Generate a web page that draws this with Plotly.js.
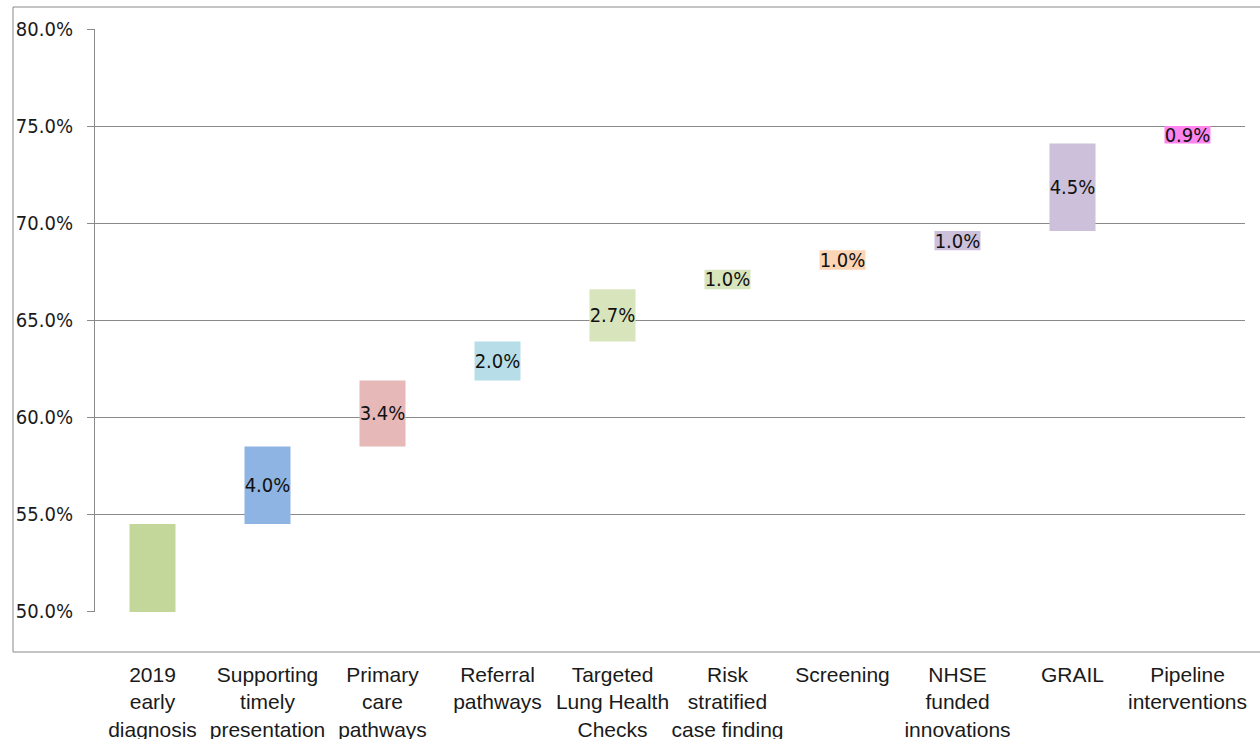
<!DOCTYPE html>
<html>
<head>
<meta charset="utf-8">
<script src="https://cdn.plot.ly/plotly-3.0.1.min.js"></script>
<style>html,body{margin:0;padding:0;background:#fff;}#chart{width:1260px;height:739px;}</style>
</head>
<body>
<div id="chart"></div>
<script>
// Category labels (x axis)
const categories = [
  "2019<br>early<br>diagnosis",
  "Supporting<br>timely<br>presentation",
  "Primary<br>care<br>pathways",
  "Referral<br>pathways",
  "Targeted<br>Lung Health<br>Checks",
  "Risk<br>stratified<br>case finding",
  "Screening",
  "NHSE<br>funded<br>innovations",
  "GRAIL",
  "Pipeline<br>interventions"
];
// Values in percentage points: first is the 2019 baseline, rest are increments
const values = [54.5, 4.0, 3.4, 2.0, 2.7, 1.0, 1.0, 1.0, 4.5, 0.9];
const barColors = ["#c4d79b", "#8db4e2", "#e6b8b7", "#b7dee8", "#d8e4bc",
                   "#d8e4bc", "#fcd5b4", "#ccc0da", "#ccc0da", "#ff85ee"];
const yTickVals = [50, 55, 60, 65, 70, 75, 80];
const yTickText = ["50.0%", "55.0%", "60.0%", "65.0%", "70.0%", "75.0%", "80.0%"];
const axisFloor = 50;

// Waterfall bases derived from the values
const bases = [];
let running = 0;
values.forEach((v, i) => { bases.push(i === 0 ? 0 : running); running += v; });
const labels = values.map((v, i) => i === 0 ? "" : v.toFixed(1) + "%");

const traces = [
  {
    // white (hidden) base segment beneath the first increment bar
    type: "bar",
    x: [categories[1]],
    y: [bases[1] - axisFloor],
    base: [axisFloor],
    width: 0.4,
    marker: {color: "#ffffff", line: {width: 3, color: "#ffffff"}},
    hoverinfo: "skip",
    showlegend: false
  },
  {
    type: "bar",
    x: categories,
    y: values,
    base: bases,
    width: 0.4,
    marker: {color: barColors, line: {width: 0}},
    text: labels,
    textposition: "inside",
    insidetextanchor: "middle",
    textangle: 0,
    constraintext: "none",
    textfont: {family: "DejaVu Sans Condensed, DejaVu Sans, sans-serif", size: 20, color: "#111111"},
    showlegend: false
  }
];

const layout = {
  width: 1260,
  height: 739,
  margin: {l: 95, r: 15, t: 29, b: 127},
  paper_bgcolor: "#ffffff",
  plot_bgcolor: "#ffffff",
  barmode: "overlay",
  showlegend: false,
  xaxis: {
    type: "category",
    categoryorder: "array",
    categoryarray: categories,
    showgrid: false,
    showline: false,
    zeroline: false,
    ticks: "",
    ticklabelstandoff: 48,
    tickangle: 0,
    tickfont: {family: "Liberation Sans, Arial, sans-serif", size: 21, color: "#1a1a1a"},
    fixedrange: true
  },
  yaxis: {
    range: [49.97, 80],
    tickmode: "array",
    tickvals: yTickVals,
    ticktext: yTickText,
    showgrid: true,
    gridcolor: "#8a8a8a",
    gridwidth: 1,
    showline: true,
    linecolor: "#8a8a8a",
    linewidth: 1,
    zeroline: false,
    ticks: "outside",
    ticklen: 7,
    tickcolor: "#8a8a8a",
    ticklabelstandoff: 10,
    tickfont: {family: "DejaVu Sans Condensed, DejaVu Sans, sans-serif", size: 20, color: "#1a1a1a"},
    fixedrange: true
  },
  shapes: [
    {
      type: "rect",
      xref: "paper", yref: "paper",
      x0: (13 - 95) / 1150, x1: (1262 - 95) / 1150,
      y0: (612 - 652) / 583, y1: (612 - 7) / 583,
      line: {color: "#8a8a8a", width: 1},
      fillcolor: "rgba(0,0,0,0)",
      layer: "below"
    }
  ]
};

Plotly.newPlot("chart", traces, layout, {displayModeBar: false, staticPlot: true});
</script>
</body>
</html>
